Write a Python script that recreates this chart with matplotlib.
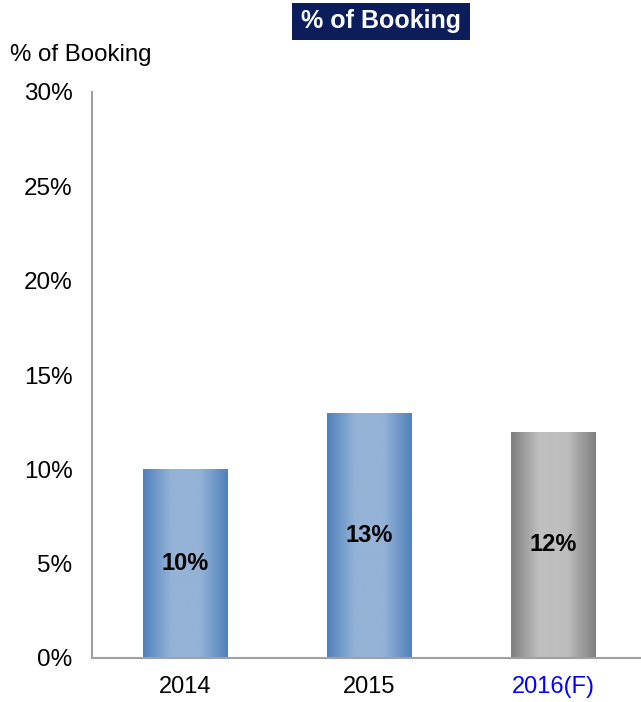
import numpy as np
import matplotlib
matplotlib.use('Agg')
from matplotlib import pyplot as plt  # noqa
from matplotlib.colors import LinearSegmentedColormap
from matplotlib.patches import Rectangle

plt.rcParams['font.family'] = ['Liberation Sans', 'DejaVu Sans']

years = ['2014', '2015', '2016(F)']
booking_pct = [10, 13, 12]
forecast = [False, False, True]

BLUE = LinearSegmentedColormap.from_list('blue_bar', ['#4f81bd', '#95b3d7', '#95b3d7', '#4f81bd'])
GRAY = LinearSegmentedColormap.from_list('gray_bar', ['#7f7f7f', '#c0c0c0', '#bdbdbd', '#7f7f7f'])

fig = plt.figure(figsize=(6.41, 7.02), dpi=100)
ax = fig.add_axes([92 / 641, 44 / 702, 549 / 641, 566 / 702])

x = np.arange(len(years))
bars = ax.bar(x, booking_pct, width=0.46, color='none', edgecolor='none')

# horizontal gradient clipped to each bar
grad = np.linspace(0, 1, 256).reshape(1, -1)
for bar, is_fc, val in zip(bars, forecast, booking_pct):
    x0, w, h = bar.get_x(), bar.get_width(), bar.get_height()
    im = ax.imshow(grad, cmap=GRAY if is_fc else BLUE, aspect='auto',
                   extent=(x0, x0 + w, 0, h), zorder=2, interpolation='bicubic')
    im.set_clip_path(bar)
    ax.text(bar.get_x() + w / 2, h / 2, '{:d}%'.format(val), ha='center', va='center',
            fontsize=17, fontweight='bold', color='black', zorder=3)

ax.set_xlim(-0.505, 2.478)
ax.set_ylim(0, 30)
ax.set_yticks(range(0, 31, 5))
ax.set_yticklabels(['{:d}%'.format(v) for v in range(0, 31, 5)], fontsize=17.5)
ax.set_xticks(x)
ax.set_xticklabels(years, fontsize=17)
for lbl, is_fc in zip(ax.get_xticklabels(), forecast):
    if is_fc:
        lbl.set_color('#0000ff')
ax.tick_params(axis='y', length=0, pad=14)
ax.tick_params(axis='x', length=0, pad=13)

for side in ['top', 'right']:
    ax.spines[side].set_visible(False)
for side in ['left', 'bottom']:
    ax.spines[side].set_color('#a0a0a0')
    ax.spines[side].set_linewidth(1.5)

fig.text(10 / 641, 1 - 55 / 702, '% of Booking', fontsize=17.3, ha='left', va='center')

# navy title box
fig.patches.append(Rectangle((292 / 641, 1 - 40 / 702), 178 / 641, 37 / 702,
                             transform=fig.transFigure, facecolor='#0b1e5b',
                             edgecolor='none'))
fig.text(381 / 641, 1 - 21 / 702, '% of Booking', fontsize=18, fontweight='bold',
         color='white', ha='center', va='center')

plt.savefig('out.png')
